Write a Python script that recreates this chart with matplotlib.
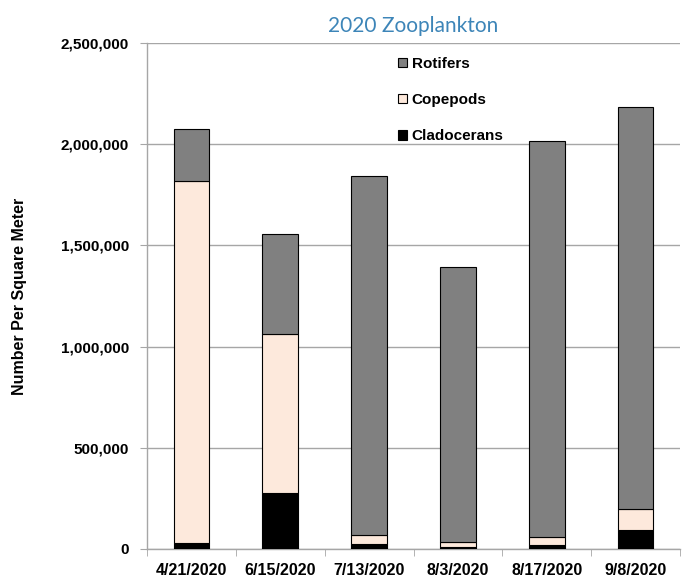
import matplotlib.pyplot as plt
import numpy as np
from matplotlib.ticker import FuncFormatter, FixedLocator

plt.rcParams['font.family'] = ['Liberation Sans', 'DejaVu Sans']

dates = ['4/21/2020', '6/15/2020', '7/13/2020', '8/3/2020', '8/17/2020', '9/8/2020']
cladocerans = [31000, 279000, 25000, 10000, 21000, 94000]
copepods = [1789000, 785000, 43000, 23000, 38000, 102000]
rotifers = [254000, 490000, 1777000, 1358000, 1956000, 1986000]

x = np.arange(len(dates))
clad = np.array(cladocerans)
cope = np.array(copepods)
roti = np.array(rotifers)

fig = plt.figure(figsize=(6.85, 5.78), dpi=100)
ax = fig.add_axes([0.2146, 0.0502, 0.7781, 0.8754])

w = 0.4
ax.bar(x, clad, w, color='black', edgecolor='black', linewidth=0.8, label='Cladocerans', zorder=3)
ax.bar(x, cope, w, bottom=clad, color='#fde9dc', edgecolor='black', linewidth=0.8, label='Copepods', zorder=3)
ax.bar(x, roti, w, bottom=clad + cope, color='#808080', edgecolor='black', linewidth=0.8, label='Rotifers', zorder=3)

ax.set_xlim(-0.5, len(dates) - 0.5)
ax.set_ylim(0, 2500000)
ax.set_yticks(np.arange(0, 2500001, 500000))
ax.yaxis.set_major_formatter(FuncFormatter(lambda v, p: f'{int(v):,}'))
ax.yaxis.grid(True, color='#a6a6a6', linewidth=1.0, zorder=0)

ax.set_xticks(x)
ax.set_xticklabels(dates)
ax.xaxis.set_minor_locator(FixedLocator(np.arange(-0.5, len(dates), 1.0)))
ax.tick_params(axis='x', which='major', length=0, pad=10, labelsize=11.5)
ax.tick_params(axis='x', which='minor', length=5, color='#a6a6a6', direction='out')
ax.tick_params(axis='y', length=5, color='#a6a6a6', labelsize=11, pad=8)
for lbl in ax.get_xticklabels() + ax.get_yticklabels():
    lbl.set_fontweight('bold')

for side in ['top', 'right']:
    ax.spines[side].set_visible(False)
for side in ['left', 'bottom']:
    ax.spines[side].set_color('#a6a6a6')
    ax.spines[side].set_linewidth(1.0)

ax.set_ylabel('Number Per Square Meter', fontsize=11.5, fontweight='bold')
ax.yaxis.set_label_coords(-0.225, 0.5)

ax.set_title('2020 Zooplankton', fontsize=15, color='#3d85b8', family=['Lato', 'DejaVu Sans'], pad=8)

handles, labels = ax.get_legend_handles_labels()
leg = ax.legend(handles[::-1], labels[::-1], loc='upper left', bbox_to_anchor=(0.445, 1.0),
                frameon=False, prop={'weight': 'bold', 'size': 11},
                handlelength=0.6, handleheight=0.6, handletextpad=0.3, labelspacing=1.45)

fig.savefig('out.png', dpi=100)
